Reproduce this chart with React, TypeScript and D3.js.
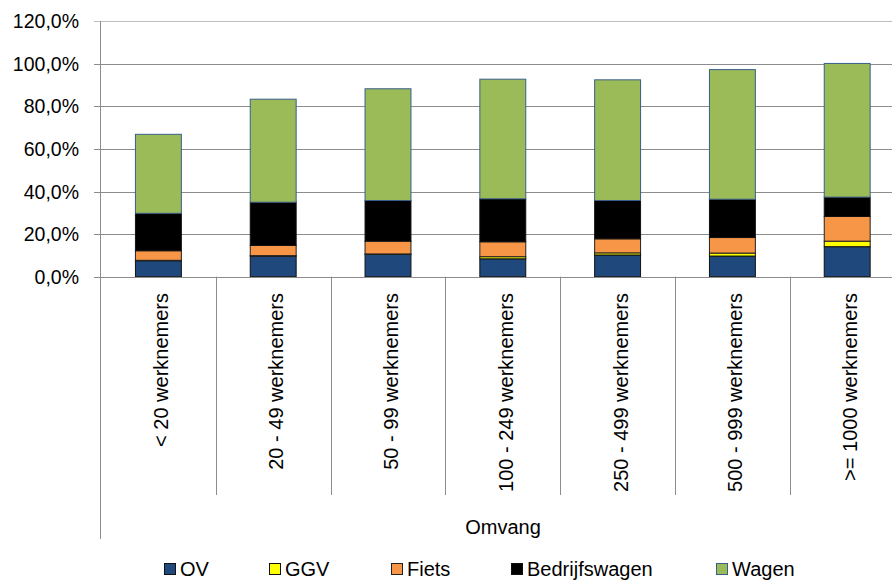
import * as d3 from 'd3';
import React, { useRef, useEffect } from 'react';

// Data
const categories = [
  '< 20 werknemers',
  '20 - 49 werknemers',
  '50 - 99 werknemers',
  '100 - 249 werknemers',
  '250 - 499 werknemers',
  '500 - 999 werknemers',
  '>= 1000 werknemers',
];
const seriesNames = ['OV', 'GGV', 'Fiets', 'Bedrijfswagen', 'Wagen'];
const ov = [7.5, 9.7, 10.5, 8.4, 10.2, 9.7, 14.1];
const ggv = [0.2, 0.2, 0.2, 1.0, 1.0, 1.4, 2.6];
const fiets = [4.5, 4.8, 6.0, 7.0, 6.6, 7.3, 11.6];
const bedrijfswagen = [17.6, 20.3, 19.1, 20.2, 18.0, 18.0, 9.1];
const wagen = [37.1, 48.4, 52.5, 56.2, 56.7, 60.9, 62.8];
const yTicks = [0, 20, 40, 60, 80, 100, 120];

const colors = ['#1F497D', '#FFFF00', '#F79646', '#000000', '#9BBB59'];
const strokes = ['#111', '#111', '#222', '#111', '#3A5F8A'];

const width = 892;
const height = 583;
const font = '"Liberation Sans", Arial, sans-serif';

export default function App() {
  const svgRef = useRef(null);

  useEffect(() => {
    const svg = d3.select(svgRef.current);
    svg.selectAll('*').remove();

    const rows = categories.map((c, i) => ({
      cat: c,
      OV: ov[i],
      GGV: ggv[i],
      Fiets: fiets[i],
      Bedrijfswagen: bedrijfswagen[i],
      Wagen: wagen[i],
    }));

    const x = d3.scaleBand().domain(categories).range([101, 904.6]).padding(0);
    const y = d3.scaleLinear().domain([0, 120]).range([276.7, 21.3]);

    // gridlines
    svg.append('g')
      .selectAll('line')
      .data(yTicks)
      .enter()
      .append('line')
      .attr('x1', 94)
      .attr('x2', width)
      .attr('y1', d => Math.round(y(d)) + 0.5)
      .attr('y2', d => Math.round(y(d)) + 0.5)
      .attr('stroke', d => (d === 120 ? '#bdbdbd' : '#8c8c8c'))
      .attr('stroke-width', 1);

    // y tick labels
    svg.append('g')
      .selectAll('text')
      .data(yTicks)
      .enter()
      .append('text')
      .attr('x', 79)
      .attr('y', d => y(d))
      .attr('text-anchor', 'end')
      .attr('dominant-baseline', 'central')
      .attr('font-family', font)
      .attr('font-size', 19.5)
      .attr('fill', '#000')
      .text(d => d3.format('.1f')(d).replace('.', ',') + '%');

    // stacked bars
    const stack = d3.stack().keys(seriesNames);
    const stacked = stack(rows as any);
    const bw = x.bandwidth() * 0.4;

    stacked.forEach((layer, si) => {
      svg.append('g')
        .selectAll('rect')
        .data(layer)
        .enter()
        .append('rect')
        .attr('x', (d: any) => (x(d.data.cat) as number) + (x.bandwidth() - bw) / 2)
        .attr('width', bw)
        .attr('y', d => y(d[1]))
        .attr('height', d => y(d[0]) - y(d[1]))
        .attr('fill', colors[si])
        .attr('stroke', strokes[si])
        .attr('stroke-width', 1);
    });

    // axes lines
    svg.append('line')
      .attr('x1', 100.5).attr('x2', 100.5)
      .attr('y1', y(120)).attr('y2', 539)
      .attr('stroke', '#8c8c8c');

    svg.append('line')
      .attr('x1', 100.5).attr('x2', width)
      .attr('y1', Math.round(y(0)) + 0.5).attr('y2', Math.round(y(0)) + 0.5)
      .attr('stroke', '#8c8c8c');

    // category separators
    const bounds = categories.map(c => x(c) as number).concat([x.range()[1]]);
    svg.append('g')
      .selectAll('line')
      .data(bounds.slice(1))
      .enter()
      .append('line')
      .attr('x1', d => Math.round(d) + 0.5)
      .attr('x2', d => Math.round(d) + 0.5)
      .attr('y1', y(0))
      .attr('y2', 495)
      .attr('stroke', '#8c8c8c');

    // category labels
    svg.append('g')
      .selectAll('text')
      .data(categories)
      .enter()
      .append('text')
      .attr('transform', d => `translate(${(x(d) as number) + x.bandwidth() / 2 + 3}, 293) rotate(-90)`)
      .attr('text-anchor', 'end')
      .attr('dominant-baseline', 'central')
      .attr('font-family', font)
      .attr('font-size', 20)
      .attr('fill', '#000')
      .text(d => d);

    // axis title
    svg.append('text')
      .attr('x', 503)
      .attr('y', 534)
      .attr('text-anchor', 'middle')
      .attr('font-family', font)
      .attr('font-size', 20)
      .attr('fill', '#000')
      .text('Omvang');

    // legend
    const legendX = [164, 269, 391, 511, 716];
    const legend = svg.append('g')
      .selectAll('g')
      .data(seriesNames)
      .enter()
      .append('g')
      .attr('transform', (d, i) => `translate(${legendX[i]}, 563)`);

    legend.append('rect')
      .attr('x', 0.5)
      .attr('y', 0.5)
      .attr('width', 11)
      .attr('height', 11)
      .attr('fill', (d, i) => colors[i])
      .attr('stroke', (d, i) => strokes[i]);

    legend.append('text')
      .attr('x', 16)
      .attr('y', 13)
      .attr('font-family', font)
      .attr('font-size', 20)
      .attr('fill', '#000')
      .text(d => d);
  });

  return (
    <svg
      ref={svgRef}
      width={width}
      height={height}
      style={{ position: 'absolute', left: 0, top: 0, background: '#fff' }}
    ></svg>
  );
}
